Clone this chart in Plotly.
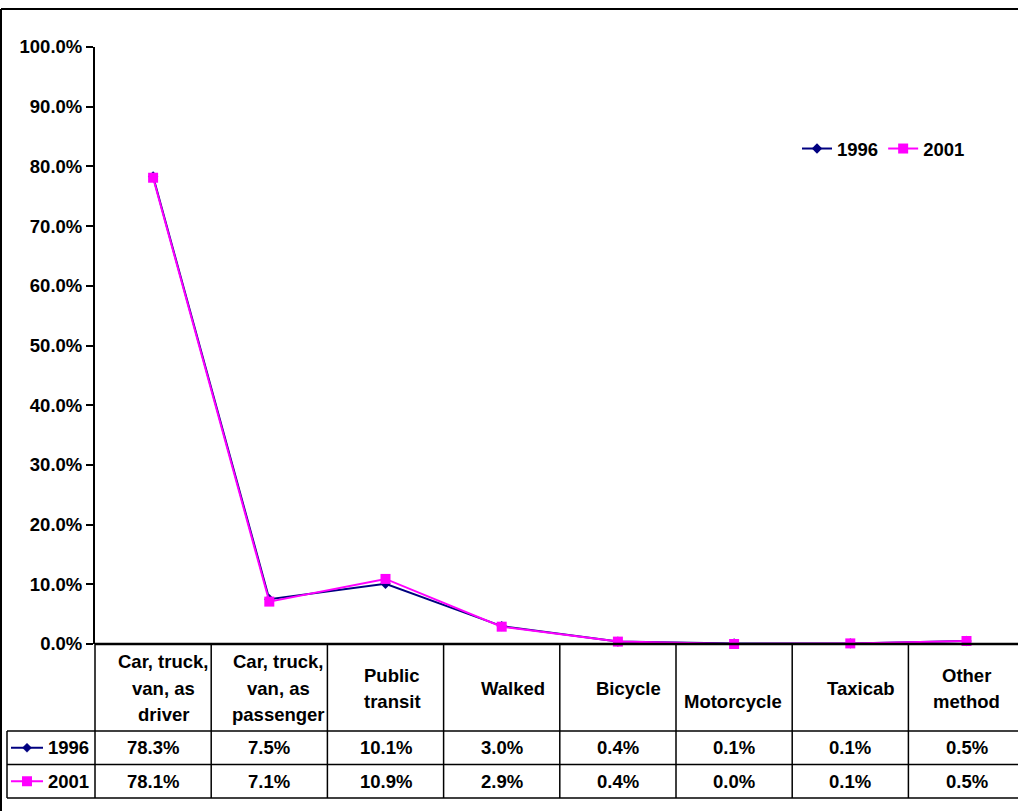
import plotly.graph_objects as go

# ---- data ----
categories = ["Car, truck, van, as driver", "Car, truck, van, as passenger", "Public transit",
              "Walked", "Bicycle", "Motorcycle", "Taxicab", "Other method"]
header_lines = [["Car, truck,", "van, as", "driver"],
                ["Car, truck,", "van, as", "passenger"],
                ["Public", "transit"],
                ["Walked"],
                ["Bicycle"],
                ["Motorcycle"],
                ["Taxicab"],
                ["Other", "method"]]
series_names = ["1996", "2001"]
values_1996 = [78.3, 7.5, 10.1, 3.0, 0.4, 0.1, 0.1, 0.5]
values_2001 = [78.1, 7.1, 10.9, 2.9, 0.4, 0.0, 0.1, 0.5]
y_ticks = [0, 10, 20, 30, 40, 50, 60, 70, 80, 90, 100]

# ---- layout geometry (pixels) ----
W, H = 1018, 811
PL, PT, PB = 95, 47, 644          # plot left, top, bottom
COLW = 116.2
PW = W - PL
PH = PB - PT
FONT = "Liberation Sans, Arial, sans-serif"
FS = 18.5
colors = {"1996": "#000080", "2001": "#FF00FF"}


def px(X):
    return (X - PL) / PW


def py(Y):
    return (PB - Y) / PH


xpos = [i + 0.5 for i in range(len(categories))]

fig = go.Figure()
fig.add_trace(go.Scatter(x=xpos, y=[v / 100 for v in values_1996], name="1996", mode="lines+markers",
                         line=dict(color=colors["1996"], width=2),
                         marker=dict(symbol="diamond", size=8, color=colors["1996"]),
                         cliponaxis=False))
fig.add_trace(go.Scatter(x=xpos, y=[v / 100 for v in values_2001], name="2001", mode="lines+markers",
                         line=dict(color=colors["2001"], width=2),
                         marker=dict(symbol="square", size=10, color=colors["2001"]),
                         cliponaxis=False))

shapes = []
line_c = "#000000"


def hline(Y, X0, X1, w=1.5):
    shapes.append(dict(type="line", xref="paper", yref="paper", x0=px(X0), x1=px(X1),
                       y0=py(Y), y1=py(Y), line=dict(color=line_c, width=w), layer="above"))


def vline(X, Y0, Y1, w=1.5):
    shapes.append(dict(type="line", xref="paper", yref="paper", x0=px(X), x1=px(X),
                       y0=py(Y0), y1=py(Y1), line=dict(color=line_c, width=w), layer="above"))


# chart area border
hline(9, 1, W + 5, 2)
vline(1, 9, H + 5, 2)

# data table grid
ROW_H = 731
ROW1 = 764.5
ROW2 = 798
LEGX = 7
hline(PB, PL, W + 5, 2.5)
hline(ROW_H, LEGX, W + 5, 1.5)
hline(ROW1, LEGX, W + 5, 1.5)
hline(ROW2, LEGX, W + 5, 1.5)
vline(LEGX, ROW_H, ROW2, 1.5)
for i in range(len(categories)):
    vline(PL + i * COLW, PB, ROW2, 1.5)

annotations = []
tfont = dict(family=FONT, size=FS, color="#000000")

# header label positions (center x, center y of text block)
hdr_cx = [163, 278, 392, 513, 628, 733, 861, 966]
hdr_cy = [688, 688, 688.5, 688, 688, 702, 688, 688.5]
for i, lines in enumerate(header_lines):
    n = len(lines)
    for j, t in enumerate(lines):
        Y = hdr_cy[i] + (j - (n - 1) / 2) * 26.5
        annotations.append(dict(xref="paper", yref="paper", x=px(hdr_cx[i]), y=py(Y), text="<b>%s</b>" % t,
                                showarrow=False, xanchor="center", yanchor="middle", font=tfont))

# value rows
row_y = [(ROW_H + ROW1) / 2, (ROW1 + ROW2) / 2]
for r, vals in enumerate([values_1996, values_2001]):
    for i, v in enumerate(vals):
        annotations.append(dict(xref="paper", yref="paper", x=px(PL + (i + 0.5) * COLW), y=py(row_y[r]),
                                text="<b>%.1f%%</b>" % v, showarrow=False, xanchor="center",
                                yanchor="middle", font=tfont))
    # legend key in table
    name = series_names[r]
    shapes.append(dict(type="line", xref="paper", yref="paper", x0=px(11), x1=px(43),
                       y0=py(row_y[r]), y1=py(row_y[r]), line=dict(color=colors[name], width=2)))
    annotations.append(dict(xref="paper", yref="paper", x=px(46), y=py(row_y[r]),
                            text="<b>%s</b>" % name, showarrow=False, xanchor="left",
                            yanchor="middle", font=tfont))

# markers for in-table legend keys (pixel-sized shapes)
shapes.append(dict(type="path", xref="paper", yref="paper", xsizemode="pixel", ysizemode="pixel",
                   xanchor=px(27), yanchor=py(row_y[0]), path="M -4.5 0 L 0 4.5 L 4.5 0 L 0 -4.5 Z",
                   fillcolor=colors["1996"], line=dict(color=colors["1996"], width=0.5)))
shapes.append(dict(type="rect", xref="paper", yref="paper", xsizemode="pixel", ysizemode="pixel",
                   xanchor=px(27), yanchor=py(row_y[1]), x0=-5, x1=5, y0=-5, y1=5,
                   fillcolor=colors["2001"], line=dict(color=colors["2001"], width=0)))

fig.update_layout(
    width=W, height=H,
    margin=dict(l=PL, r=0, t=PT, b=H - PB, pad=0),
    paper_bgcolor="white", plot_bgcolor="white",
    font=dict(family=FONT, size=FS, color="#000000"),
    showlegend=True,
    legend=dict(orientation="h", x=px(797), y=py(149), xanchor="left", yanchor="middle",
                font=dict(family=FONT, size=FS, color="#000000", weight="bold"),
                itemwidth=30, bgcolor="rgba(0,0,0,0)", tracegroupgap=0),
    xaxis=dict(range=[0, PW / COLW], showgrid=False, zeroline=False, showticklabels=False,
               showline=False, ticks="", fixedrange=True),
    yaxis=dict(range=[0, 1], tickvals=[t / 100 for t in y_ticks],
               ticktext=["<b>%.1f%%</b>" % t for t in y_ticks],
               showgrid=False, zeroline=False, showline=True, linecolor="#000000", linewidth=2,
               ticks="outside", ticklen=7, tickwidth=1.5, tickcolor="#000000",
               tickfont=dict(family=FONT, size=FS, color="#000000"), fixedrange=True),
    shapes=shapes,
    annotations=annotations,
)

fig.write_html("out.html")
